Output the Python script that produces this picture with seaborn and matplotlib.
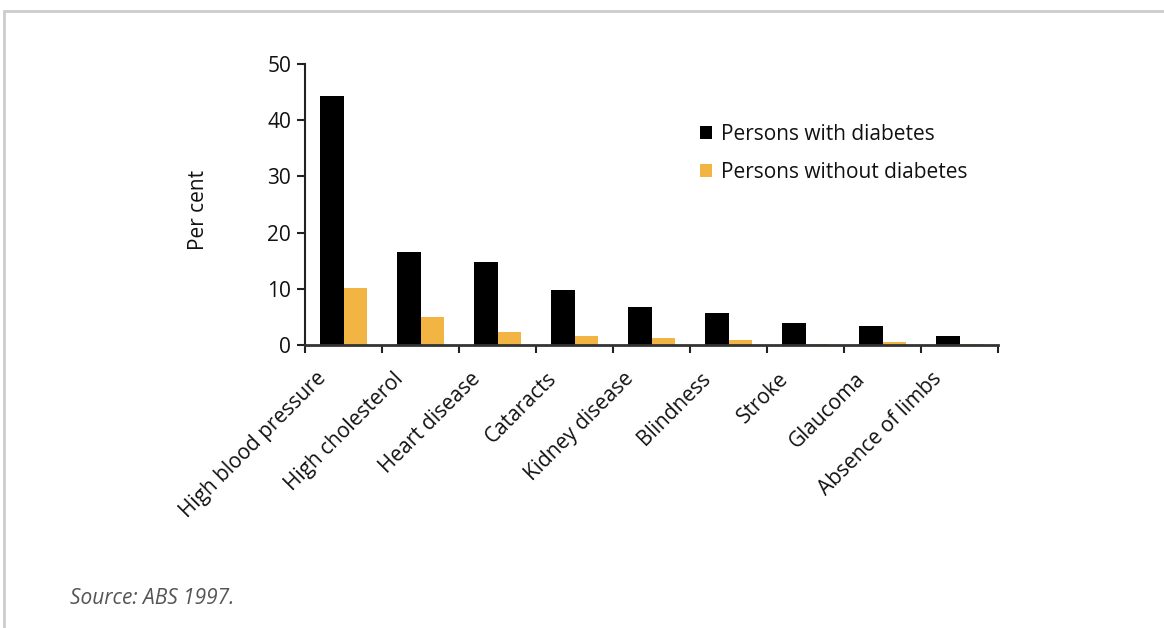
import matplotlib
matplotlib.use("Agg")
import matplotlib.pyplot as plt
from matplotlib.lines import Line2D
from matplotlib.transforms import ScaledTranslation
import pandas as pd
import seaborn as sns

conditions = ["High blood pressure", "High cholesterol", "Heart disease", "Cataracts",
              "Kidney disease", "Blindness", "Stroke", "Glaucoma", "Absence of limbs"]
with_diabetes = [44.3, 16.5, 14.8, 9.8, 6.8, 5.7, 3.9, 3.4, 1.6]
without_diabetes = [10.1, 5.0, 2.3, 1.6, 1.25, 0.9, 0.2, 0.5, 0.2]
series_names = ["Persons with diabetes", "Persons without diabetes"]
y_ticks = [0, 10, 20, 30, 40, 50]

df = pd.DataFrame({
    "condition": conditions * 2,
    "value": with_diabetes + without_diabetes,
    "group": [series_names[0]] * len(conditions) + [series_names[1]] * len(conditions),
})

sns.set_theme(style="white")
plt.rcParams["font.family"] = ["Open Sans", "DejaVu Sans"]

FS = 15
W, H = 1164, 628
fig = plt.figure(figsize=(W / 100, H / 100), dpi=100)
ax = fig.add_axes([305 / W, 1 - 345 / H, (998 - 305) / W, (345 - 64) / H])

sns.barplot(data=df, x="condition", y="value", hue="group", order=conditions,
            hue_order=series_names, palette=["#000000", "#F2B544"],
            width=0.6, dodge=True, ax=ax, saturation=1, legend=True, linewidth=0)

ax.set_ylim(0, 50)
ax.set_xlim(-0.5, len(conditions) - 0.5)
ax.set_yticks(y_ticks)
ax.set_yticklabels([str(t) for t in y_ticks], fontsize=FS, color="#111111")
ax.set_xlabel("")
ax.set_ylabel("Per cent", fontsize=FS, color="#111111")
ax.yaxis.set_label_coords(-0.139, 0.48)

# tick marks on the category boundaries
ax.set_xticks([i - 0.5 for i in range(len(conditions) + 1)], minor=True)
ax.tick_params(axis="x", which="minor", length=6, width=1.5, color="#222222", direction="out", bottom=True)
ax.tick_params(axis="y", length=6, width=1.5, color="#222222", direction="out", left=True, pad=4)
ax.tick_params(axis="x", which="major", length=0, pad=8)

# slanted category labels, nudged down-left of each category centre
ax.set_xticks(range(len(conditions)))
ax.set_xticklabels(conditions, rotation=45, ha="right", rotation_mode="anchor",
                   fontsize=FS, color="#111111")
shift = ScaledTranslation(-28 / 100, -12 / 100, fig.dpi_scale_trans)
for lbl in ax.get_xticklabels():
    lbl.set_transform(lbl.get_transform() + shift)

for side in ["top", "right"]:
    ax.spines[side].set_visible(False)
ax.spines["left"].set_color("#222222")
ax.spines["left"].set_linewidth(1.5)
ax.spines["bottom"].set_color("#333333")
ax.spines["bottom"].set_linewidth(2)

leg = ax.legend(loc="upper left", bbox_to_anchor=(700 / W, 1 - 124 / H),
                bbox_transform=fig.transFigure, frameon=False, borderaxespad=0, borderpad=0,
                fontsize=FS, handlelength=0.58, handleheight=0.58, handletextpad=0.45,
                labelspacing=0.8)
for t in leg.get_texts():
    t.set_color("#111111")

fig.text(70 / W, 1 - 598 / H, "Source: ABS 1997.", fontsize=FS, style="italic",
         color="#555555", va="center")

# light frame along the top and left edges
fig.add_artist(Line2D([4 / W, 1], [1 - 11 / H, 1 - 11 / H], color="#CCCCCC", lw=2,
                      transform=fig.transFigure))
fig.add_artist(Line2D([4 / W, 4 / W], [0, 1 - 11 / H], color="#CCCCCC", lw=2,
                      transform=fig.transFigure))

fig.savefig("out.png", dpi=100)
